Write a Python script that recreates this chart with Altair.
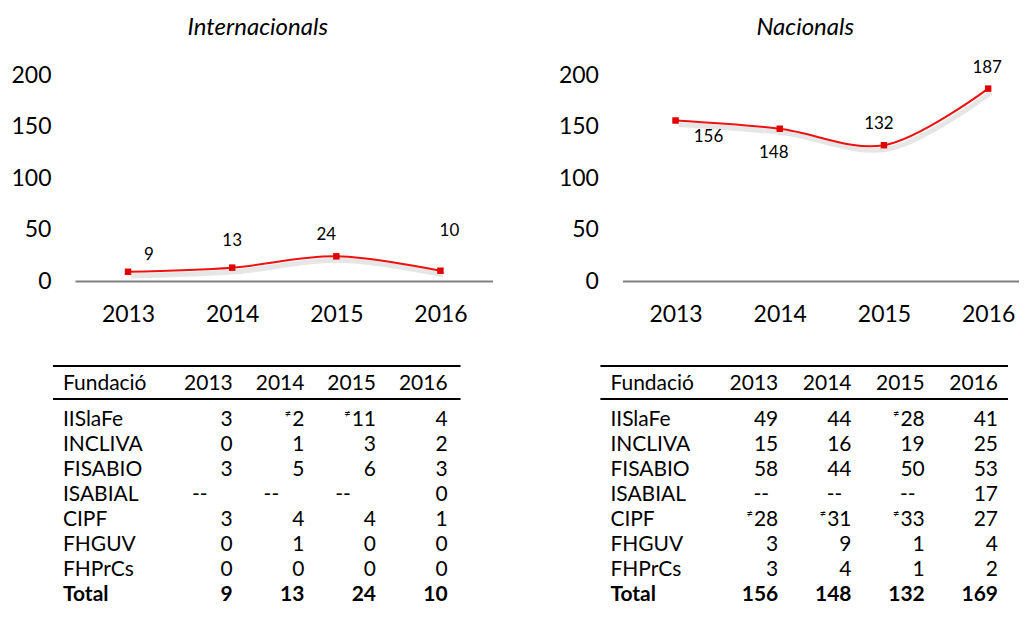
import altair as alt
import pandas as pd

# ---------------- data ----------------
years = [2013, 2014, 2015, 2016]
intl_series = [9, 13, 24, 10]
nac_series = [156, 148, 132, 187]

rows = ["IISlaFe", "INCLIVA", "FISABIO", "ISABIAL", "CIPF", "FHGUV", "FHPrCs"]

intl_2013 = [3, 0, 3, None, 3, 0, 0]
intl_2014 = [2, 1, 5, None, 4, 1, 0]
intl_2015 = [11, 3, 6, None, 4, 0, 0]
intl_2016 = [4, 2, 3, 0, 1, 0, 0]
intl_total = [9, 13, 24, 10]
intl_flags = [("IISlaFe", 2014), ("IISlaFe", 2015)]

nac_2013 = [49, 15, 58, None, 28, 3, 3]
nac_2014 = [44, 16, 44, None, 31, 9, 4]
nac_2015 = [28, 19, 50, None, 33, 1, 1]
nac_2016 = [41, 25, 53, 17, 27, 4, 2]
nac_total = [156, 148, 132, 169]
nac_flags = [("IISlaFe", 2015), ("CIPF", 2013), ("CIPF", 2014), ("CIPF", 2015)]

FONT = "Lato"
RED = "#EE1111"
TFS = 21            # table font size
DIGIT_W = 0.58 * TFS


def line_chart(series, title, width, domain, title_x, offsets):
    df = pd.DataFrame({"year": years, "value": series})
    x = alt.X("year:Q",
              scale=alt.Scale(domain=domain, nice=False, zero=False),
              axis=alt.Axis(values=years, format="d", title=None, grid=False, ticks=False,
                            domain=True, domainColor="#808080", domainWidth=2,
                            labelFontSize=23, labelPadding=23, labelColor="#000000",
                            labelFont=FONT, labelFlush=False))
    y = alt.Y("value:Q",
              scale=alt.Scale(domain=[0, 200], nice=False),
              axis=alt.Axis(values=[0, 50, 100, 150, 200], title=None, grid=False, ticks=False,
                            domain=False, labelFontSize=23, labelPadding=24,
                            labelColor="#000000", labelFont=FONT))
    base = alt.Chart(df)
    shadow = base.mark_line(interpolate="catmull-rom", color="#9a9a9a", strokeWidth=5,
                            opacity=0.25, xOffset=3, yOffset=4).encode(x=x, y=y)
    line = base.mark_line(interpolate="catmull-rom", color=RED, strokeWidth=2).encode(x=x, y=y)
    pts = base.mark_square(size=42, color="#E00000", opacity=1).encode(x=x, y=y)
    labels = []
    for yr, (dx, dy) in zip(years, offsets):
        labels.append(
            base.transform_filter(alt.datum.year == yr)
            .mark_text(dx=dx, dy=dy, fontSize=17, font=FONT, color="#000000",
                       align="center", baseline="middle")
            .encode(x=x, y=y, text="value:Q")
        )
    ttl = alt.Chart(pd.DataFrame({"t": [title]})).mark_text(
        fontSize=24, font=FONT, fontStyle="italic", color="#000000",
        align="center", baseline="alphabetic"
    ).encode(x=alt.value(title_x), y=alt.value(-40), text="t:N")
    return alt.layer(shadow, line, pts, *labels, ttl).properties(
        width=width, height=206, view=alt.ViewBackground(stroke="transparent"))


def table(cols, totals, flags, width, x_range, dash_dx):
    recs = []
    for i, r in enumerate(rows):
        for yr, col in zip(years, cols):
            v = col[i]
            recs.append({"row": r, "year": yr, "text": "--" if v is None else str(v),
                         "kind": "dash" if v is None else "num"})
    for yr, t in zip(years, totals):
        recs.append({"row": "Total", "year": yr, "text": str(t), "kind": "total"})
    df = pd.DataFrame(recs)
    order = rows + ["Total"]
    y = alt.Y("row:N", sort=order, scale=alt.Scale(paddingInner=0, paddingOuter=0), axis=None)
    x = alt.X("year:Q", scale=alt.Scale(domain=[2013, 2016], range=x_range, nice=False, zero=False),
              axis=None)
    base = alt.Chart(df)
    nums = base.transform_filter(alt.datum.kind == "num").mark_text(
        align="right", baseline="middle", fontSize=TFS, font=FONT, color="#000000"
    ).encode(x=x, y=y, text="text:N")
    dashes = base.transform_filter(alt.datum.kind == "dash").mark_text(
        align="center", baseline="middle", fontSize=TFS, font=FONT, color="#000000", dx=dash_dx
    ).encode(x=x, y=y, text="text:N")
    tot = base.transform_filter(alt.datum.kind == "total").mark_text(
        align="right", baseline="middle", fontSize=TFS, font=FONT, color="#000000", fontWeight="bold"
    ).encode(x=x, y=y, text="text:N")

    lab_df = pd.DataFrame({"row": order, "bold": [False] * len(rows) + [True]})
    labs = alt.Chart(lab_df).transform_filter(alt.datum.bold == False).mark_text(
        align="left", baseline="middle", fontSize=TFS, font=FONT, color="#000000"
    ).encode(x=alt.value(-12), y=y, text="row:N")
    labs_b = alt.Chart(lab_df).transform_filter(alt.datum.bold == True).mark_text(
        align="left", baseline="middle", fontSize=TFS, font=FONT, color="#000000", fontWeight="bold"
    ).encode(x=alt.value(-12), y=y, text="row:N")

    head_df = pd.DataFrame({"year": years, "label": [str(v) for v in years]})
    head = alt.Chart(head_df).mark_text(
        align="right", baseline="middle", fontSize=TFS, font=FONT, color="#000000"
    ).encode(x=x, y=alt.value(-23.5), text="label:N")
    head_lab = alt.Chart(pd.DataFrame({"label": ["Fundació"]})).mark_text(
        align="left", baseline="middle", fontSize=TFS, font=FONT, color="#000000"
    ).encode(x=alt.value(-12), y=alt.value(-23.5), text="label:N")

    rule_df = pd.DataFrame({"k": [0]})
    top_rule = alt.Chart(rule_df).mark_rule(color="#000000", strokeWidth=2).encode(
        x=alt.value(-22), x2=alt.value(386), y=alt.value(-41.5))
    mid_rule = alt.Chart(rule_df).mark_rule(color="#000000", strokeWidth=2).encode(
        x=alt.value(-22), x2=alt.value(386), y=alt.value(-8.5))

    flag_layers = []
    lookup = {(r, yr): col[i] for i, r in enumerate(rows) for yr, col in zip(years, cols)}
    for r, yr in flags:
        nd = len(str(lookup[(r, yr)]))
        flag_layers.append(
            base.transform_filter((alt.datum.row == r) & (alt.datum.year == yr))
            .mark_text(align="right", baseline="middle", fontSize=11, font=FONT,
                       color="#000000", dx=-(nd * DIGIT_W) - 1, dy=-6)
            .encode(x=x, y=y, text=alt.value("≠"))
        )

    return alt.layer(top_rule, mid_rule, head_lab, head, labs, labs_b, nums, dashes, tot,
                     *flag_layers).properties(width=width, height=200,
                                              view=alt.ViewBackground(stroke="transparent"))


left = line_chart(intl_series, "Internacionals", 418, [2012.49, 2016.5], 183,
                  [(21, -17), (0, -27), (-10, -21), (9, -40)])
right = line_chart(nac_series, "Nacionals", 397, [2012.49, 2016.296], 183,
                   [(33, 17), (-6, 24), (-5, -21), (-1, -21)])

tl = table([intl_2013, intl_2014, intl_2015, intl_2016], intl_total, intl_flags, 418,
           [158, 373], -33)
tr = table([nac_2013, nac_2014, nac_2015, nac_2016], nac_total, nac_flags, 397,
           [156, 376], -17)

chart = alt.concat(left, right, tl, tr, columns=2, bounds="flush",
                   spacing={"row": 126.5, "column": 130}).properties(
    padding={"left": 2, "top": 8, "right": 0, "bottom": 0}
).configure(font=FONT).configure_view(stroke="transparent", strokeWidth=0)

chart.save("out.html", embed_options={"renderer": "svg", "actions": False})
